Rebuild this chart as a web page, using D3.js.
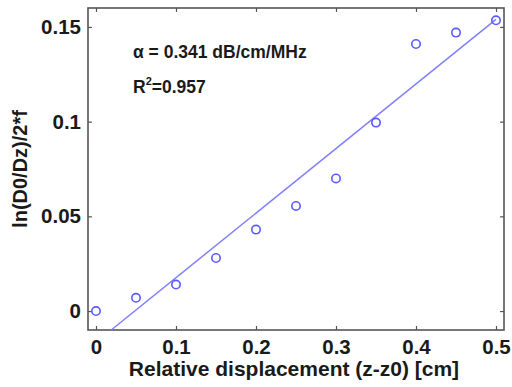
<!DOCTYPE html>
<html><head><meta charset="utf-8">
<script src="https://cdn.jsdelivr.net/npm/d3@7/dist/d3.min.js"></script>
<style>body{margin:0;background:#fff}svg{display:block}</style>
</head><body>
<script>
const xValues = [0, 0.05, 0.1, 0.15, 0.2, 0.25, 0.3, 0.35, 0.4, 0.45, 0.5];
const yValues = [0, 0.007, 0.014, 0.028, 0.043, 0.0555, 0.070, 0.0995, 0.141, 0.147, 0.1535];
const fitX = [0.019, 0.5];
const fitY = [-0.01, 0.154];
const xTicks = [0, 0.1, 0.2, 0.3, 0.4, 0.5];
const xTickLabels = ["0", "0.1", "0.2", "0.3", "0.4", "0.5"];
const yTicks = [0, 0.05, 0.1, 0.15];
const yTickLabels = ["0", "0.05", "0.1", "0.15"];
const annotation1 = "α = 0.341 dB/cm/MHz";
const annotation2 = ["R", "2", "=0.957"];
const xLabel = "Relative displacement (z-z0) [cm]";
const yLabel = "ln(D0/Dz)/2*f";

const W = 512, H = 387;
const m = {left: 88, top: 8, right: 504, bottom: 330};
const svg = d3.select("body").append("svg").attr("width", W).attr("height", H);
const x = d3.scaleLinear().domain([-0.01, 0.51]).range([m.left, m.right]);
const y = d3.scaleLinear().domain([-0.01, 0.16]).range([m.bottom, m.top]);
const font = "Arial, 'Liberation Sans', sans-serif";
const axisCol = "#555";
const textCol = "#1a1a1a";
const blue = "#5a5aff";

// Box
svg.append("rect").attr("x", m.left).attr("y", m.top)
  .attr("width", m.right - m.left).attr("height", m.bottom - m.top)
  .attr("fill", "#fff").attr("stroke", axisCol).attr("stroke-width", 1.6);

// Axes with inward ticks
const gB = svg.append("g").attr("transform", `translate(0,${m.bottom})`)
  .call(d3.axisBottom(x).tickValues(xTicks).tickSize(-4).tickPadding(9).tickFormat((d,i)=>xTickLabels[i]));
const gT = svg.append("g").attr("transform", `translate(0,${m.top})`)
  .call(d3.axisTop(x).tickValues(xTicks).tickSize(-4).tickFormat(""));
const gL = svg.append("g").attr("transform", `translate(${m.left},0)`)
  .call(d3.axisLeft(y).tickValues(yTicks).tickSize(-4).tickPadding(7).tickFormat((d,i)=>yTickLabels[i]));
const gR = svg.append("g").attr("transform", `translate(${m.right},0)`)
  .call(d3.axisRight(y).tickValues(yTicks).tickSize(-4).tickFormat(""));
[gB, gT, gL, gR].forEach(g => {
  g.select(".domain").remove();
  g.selectAll(".tick line").attr("stroke", axisCol).attr("stroke-width", 1.2);
  g.selectAll("text").attr("font-family", font).attr("font-weight", "bold")
    .attr("font-size", 20.5).attr("fill", textCol);
});

// Fit line
svg.append("path")
  .datum(fitX.map((d, i) => [d, fitY[i]]))
  .attr("d", d3.line().x(d => x(d[0])).y(d => y(d[1])))
  .attr("fill", "none").attr("stroke", "#8080ff").attr("stroke-width", 1.5);

// Points
svg.selectAll("circle.pt").data(xValues).join("circle").attr("class", "pt")
  .attr("cx", d => x(d)).attr("cy", (d, i) => y(yValues[i])).attr("r", 4.2)
  .attr("fill", "none").attr("stroke", blue).attr("stroke-width", 1.6);

// Annotations
svg.append("text").attr("x", 133).attr("y", 58).attr("font-family", font)
  .attr("font-weight", "bold").attr("font-size", 17.5).attr("fill", textCol).text(annotation1);
const t2 = svg.append("text").attr("x", 133).attr("y", 93).attr("font-family", font)
  .attr("font-weight", "bold").attr("font-size", 17.5).attr("fill", textCol);
t2.append("tspan").text(annotation2[0]);
t2.append("tspan").attr("dy", -8).attr("font-size", 11).text(annotation2[1]);
t2.append("tspan").attr("dy", 8).text(annotation2[2]);

// Axis labels
svg.append("text").attr("x", 294).attr("y", 376)
  .attr("text-anchor", "middle").attr("font-family", font).attr("font-weight", "bold")
  .attr("font-size", 21).attr("fill", textCol).text(xLabel);
svg.append("text").attr("transform", `translate(27,169) rotate(-90)`)
  .attr("text-anchor", "middle").attr("font-family", font).attr("font-weight", "bold")
  .attr("font-size", 20).attr("fill", textCol).text(yLabel);
</script>
</body></html>
